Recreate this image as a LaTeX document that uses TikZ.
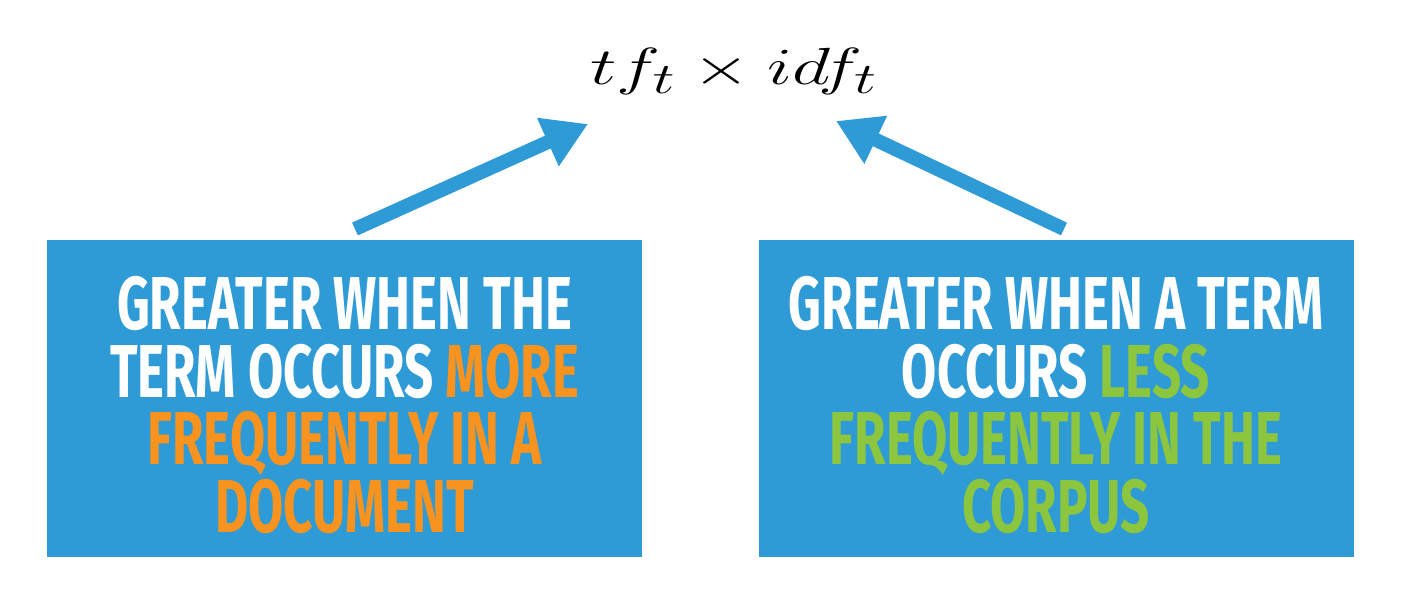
\documentclass[tikz,border=0pt]{standalone}
\usepackage{fontspec}
\newfontfamily\boxfont{Fira Sans}[FakeStretch=0.68]
\usetikzlibrary{arrows.meta}
\definecolor{boxblue}{RGB}{46,154,214}
\definecolor{hlorange}{RGB}{247,147,30}
\definecolor{hlgreen}{RGB}{140,198,63}
\tikzset{
  panel/.style={fill=boxblue, draw=none, minimum width=297.5pt, minimum height=158.5pt,
    inner sep=0pt},
  ptext/.style={inner sep=0pt, text=white, anchor=base, text height=27pt, text depth=3pt,
    font=\boxfont\bfseries\fontsize{37.5}{33.5}\selectfont},
  bigarrow/.style={draw=boxblue, line width=7pt, -{Triangle[length=22pt,width=25pt]}},
  formula/.style={inner sep=0pt, anchor=base, font=\fontsize{32}{38}\selectfont}
}
\begin{document}
\begin{tikzpicture}[x=0.5pt,y=-0.5pt]
\useasboundingbox (0,0) rectangle (1409,604);
\fill[white] (0,0) rectangle (1409,604);
\node[formula] (F) at (734,85) {\scalebox{1.5}[1.05]{$tf_t \times idf_t$}};
\node[panel] (L) at (344.5,398.5) {};
\node[panel] (R) at (1056,398.5) {};
\node[ptext] (L1) at (344.5,330) {GREATER WHEN THE};
\node[ptext] (L2) at (344.5,397) {TERM OCCURS {\color{hlorange}MORE}};
\node[ptext] (L3) at (344.5,465) {\color{hlorange}FREQUENTLY IN A};
\node[ptext] (L4) at (344.5,532) {\color{hlorange}DOCUMENT};
\node[ptext] (R1) at (1056,330) {GREATER WHEN A TERM};
\node[ptext] (R2) at (1056,397) {OCCURS {\color{hlgreen}LESS}};
\node[ptext] (R3) at (1056,465) {\color{hlgreen}FREQUENTLY IN THE};
\node[ptext] (R4) at (1056,532) {\color{hlgreen}CORPUS};
\coordinate (ls) at (355,229);
\coordinate (le) at (588,124);
\coordinate (rs) at (1064,229);
\coordinate (re) at (836,121);
\draw[bigarrow] (ls) -- (le);
\draw[bigarrow] (rs) -- (re);
\end{tikzpicture}
\end{document}
